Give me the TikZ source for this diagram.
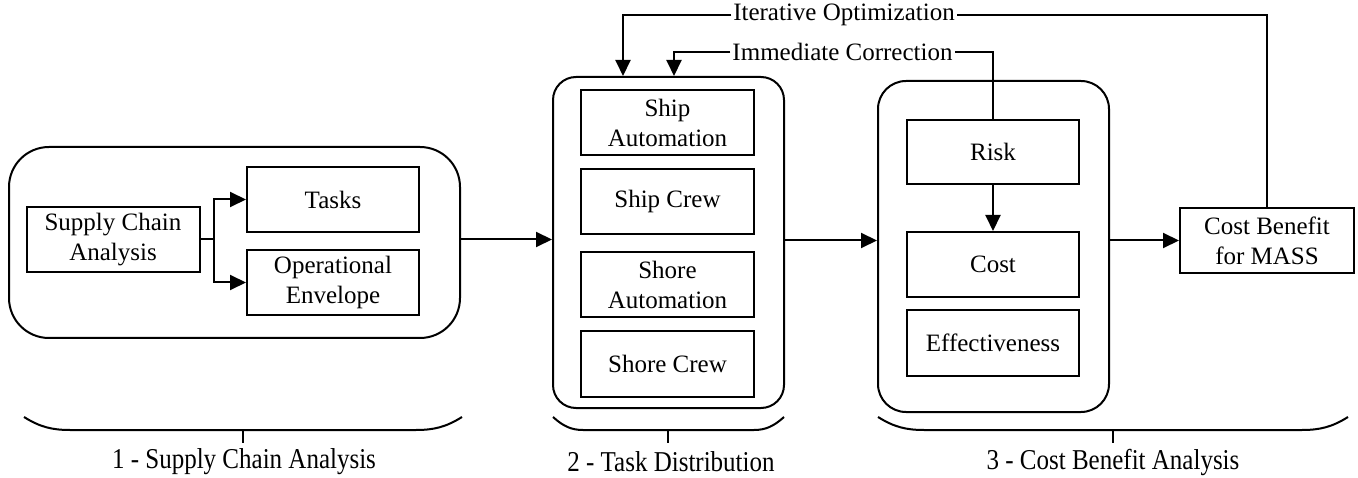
\documentclass[tikz,border=0pt]{standalone}
\usepackage{fontspec}
\setmainfont{Liberation Serif}
\usetikzlibrary{arrows.meta}
\begin{document}
\begin{tikzpicture}[x=1pt,y=-1pt, line width=2pt,
  txt/.style={font=\fontsize{25}{30}\selectfont},
  box/.style={txt, draw, minimum width=173pt, minimum height=65pt, align=center, inner sep=0pt},
  grp/.style={draw, inner sep=0pt},
  arr/.style={-{Triangle[length=16pt,width=15pt]}},
  lbl/.style={txt, inner sep=1pt},
  brace/.style={line width=2pt},
]
\useasboundingbox (0,0) rectangle (1358,478);

% groups
\node[grp, minimum width=451pt, minimum height=191pt, rounded corners=40pt] (g1) at (234.5,242.5) {};
\node[grp, minimum width=231pt, minimum height=331pt, rounded corners=23pt] (g2) at (668.5,242.5) {};
\node[grp, minimum width=231pt, minimum height=331pt, rounded corners=28pt] (g3) at (993.5,246.5) {};

% group 1
\node[box] (sca) at (113,239.5) {Supply Chain\\Analysis};
\node[box, minimum width=172pt] (tasks) at (333,199.5) {Tasks};
\node[box, minimum width=172pt] (env) at (333,282.5) {Operational\\Envelope};
\coordinate (br) at (214,239.5);
\draw (sca.east) -- (br);
\draw[arr] (br) |- (tasks.west);
\draw[arr] (br) |- (env.west);

% group 2
\node[box] (sa) at (667.5,122.5) {Ship\\Automation};
\node[box] (sc) at (667.5,201.5) {Ship Crew};
\node[box] (sha) at (667.5,284.5) {Shore\\Automation};
\node[box, minimum height=66pt] (shc) at (667.5,364) {Shore Crew};

% group 3
\node[box, minimum width=172pt, minimum height=64pt] (risk) at (993,152) {Risk};
\node[box, minimum width=172pt] (cost) at (993,264.5) {Cost};
\node[box, minimum width=172pt, minimum height=66pt] (eff) at (993,343) {Effectiveness};
\draw[arr] (risk.south) -- (cost.north);

% result
\node[box, minimum width=174pt] (cb) at (1267,240.5) {Cost Benefit\\for MASS};

% main flow
\draw[arr] (g1.east |- sca.east) -- (g2.west |- sca.east);
\draw[arr] (g2.east |- cb.west) -- (g3.west |- cb.west);
\draw[arr] (g3.east |- cb.west) -- (cb.west);

% feedback loops
\node[lbl] (io) at (844,15) {Iterative Optimization};
\node[lbl] (ic) at (842.5,52) {Immediate Correction};
\coordinate (xio) at (623,0);
\coordinate (xic) at (674,0);
\draw (cb.north) |- (io.east);
\draw[arr] (io.west) -| (g2.north -| xio);
\draw (risk.north) |- (ic.east);
\draw[arr] (ic.west) -| (g2.north -| xic);

% braces
\draw[brace] (24,417) .. controls (40,427) and (52,430) .. (70,430) -- (416,430) .. controls (434,430) and (446,427) .. (462,417);
\draw[brace] (243,430) -- (243,443);
\draw[brace] (553,417) .. controls (563,426) and (571,430) .. (583,430) -- (754,430) .. controls (766,430) and (774,426) .. (784,417);
\draw[brace] (668,430) -- (668,443);
\draw[brace] (878,417) .. controls (894,427) and (906,430) .. (924,430) -- (1302,430) .. controls (1320,430) and (1332,427) .. (1348,417);
\draw[brace] (1113,430) -- (1113,443);

\node[txt, inner sep=0pt] (l1) at (244,462) {\scalebox{1}[1.15]{1 - Supply Chain Analysis}};
\node[txt, inner sep=0pt] (l2) at (671,462) {\scalebox{1}[1.15]{2 - Task Distribution}};
\node[txt, inner sep=0pt] (l3) at (1113,462) {\scalebox{1}[1.15]{3 - Cost Benefit Analysis}};
\end{tikzpicture}
\end{document}
